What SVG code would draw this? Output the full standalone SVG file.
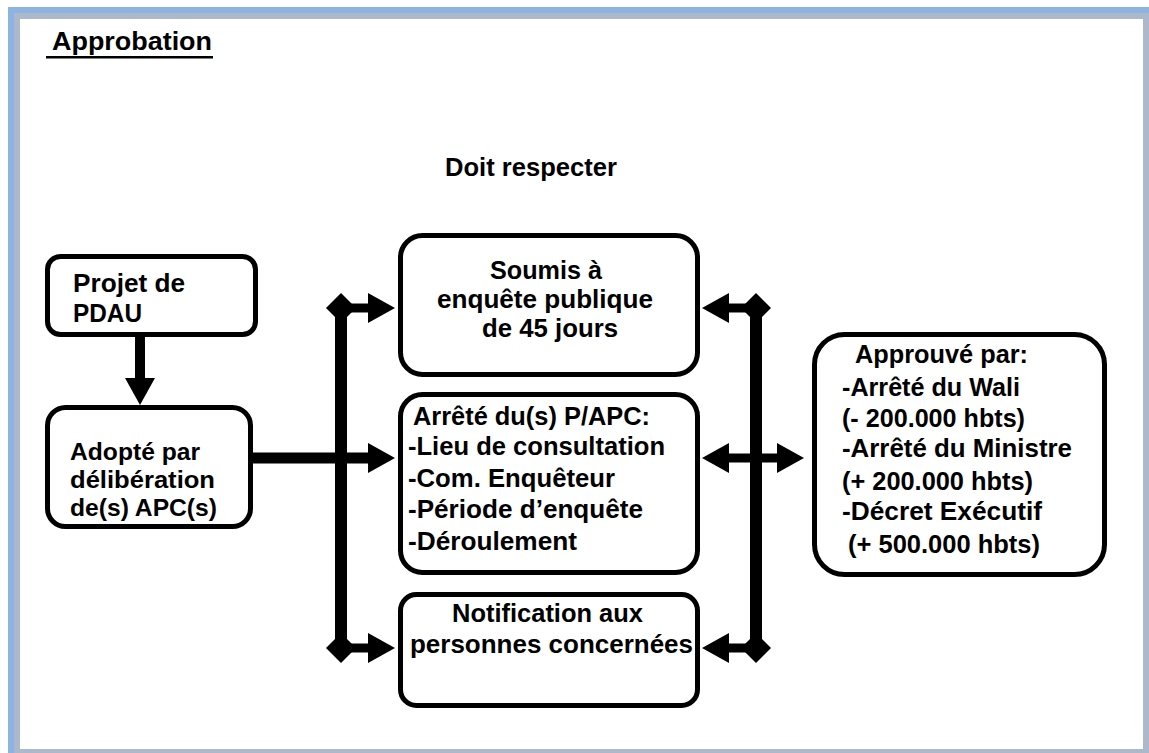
<svg xmlns="http://www.w3.org/2000/svg" xmlns:xlink="http://www.w3.org/1999/xlink" width="1149" height="753" viewBox="0 0 1149 753">
  <style>
    .box { fill: #ffffff; stroke: #000000; stroke-width: 5; }
    .t { font-family: "Liberation Sans", Arial, sans-serif; font-weight: bold; font-size: 26px; fill: #000000; }
    .s { font-size: 24px; }
    .ln { stroke: #000000; fill: none; }
  </style>
  <defs>
    <path id="ah" d="M0,0 L-27,-15 L-27,15 Z" fill="#000"/>
    <path id="dm" d="M0,-15 L15,0 L0,15 L-15,0 Z" fill="#000"/>
  </defs>
  <g id="frame">
    <rect x="8" y="7" width="1141" height="746" fill="#8db3e2"/>
    <rect x="14" y="13" width="1135" height="740" fill="#acb9ca"/>
    <rect x="20" y="19" width="1123" height="730" fill="#ffffff"/>
  </g>
  <g id="title">
    <text class="t" x="52" y="50" textLength="160" lengthAdjust="spacingAndGlyphs" font-size="25">Approbation</text>
    <rect x="46" y="56" width="167" height="2.5" fill="#000"/>
  </g>
  <g id="doit">
    <text class="t" x="445" y="176" textLength="172" lengthAdjust="spacingAndGlyphs">Doit respecter</text>
  </g>
  <g id="connectors">
    <line class="ln" x1="140" y1="337" x2="140" y2="380" stroke-width="10"/>
    <use xlink:href="#ah" transform="translate(140,405) rotate(90)"/>
    <line class="ln" x1="341" y1="308" x2="341" y2="648" stroke-width="12"/>
    <line class="ln" x1="341" y1="308" x2="370" y2="308" stroke-width="9"/>
    <use xlink:href="#ah" transform="translate(395,308)"/>
    <line class="ln" x1="253" y1="458" x2="370" y2="458" stroke-width="11"/>
    <use xlink:href="#ah" transform="translate(395,458)"/>
    <line class="ln" x1="341" y1="648" x2="370" y2="648" stroke-width="9"/>
    <use xlink:href="#ah" transform="translate(395,648)"/>
    <use xlink:href="#dm" transform="translate(341,308)"/>
    <use xlink:href="#dm" transform="translate(341,648)"/>
    <line class="ln" x1="756" y1="308" x2="756" y2="648" stroke-width="12"/>
    <line class="ln" x1="726" y1="308" x2="756" y2="308" stroke-width="9"/>
    <use xlink:href="#ah" transform="translate(702,308) rotate(180)"/>
    <line class="ln" x1="726" y1="458" x2="780" y2="458" stroke-width="9"/>
    <use xlink:href="#ah" transform="translate(702,458) rotate(180)"/>
    <use xlink:href="#ah" transform="translate(804,458)"/>
    <line class="ln" x1="726" y1="648" x2="756" y2="648" stroke-width="9"/>
    <use xlink:href="#ah" transform="translate(702,648) rotate(180)"/>
    <use xlink:href="#dm" transform="translate(756,308)"/>
    <use xlink:href="#dm" transform="translate(756,648)"/>
  </g>
  <g id="projet">
    <rect class="box" x="47.5" y="256.5" width="208" height="78" rx="13"/>
    <text class="t" x="73" y="292" textLength="112" lengthAdjust="spacingAndGlyphs">Projet de</text>
    <text class="t" x="73" y="322" textLength="69" lengthAdjust="spacingAndGlyphs">PDAU</text>
  </g>
  <g id="adopte">
    <rect class="box" x="47.5" y="407.5" width="203" height="119" rx="18"/>
    <text class="t s" x="70" y="460" textLength="130" lengthAdjust="spacingAndGlyphs">Adopté par</text>
    <text class="t s" x="70" y="488" textLength="145" lengthAdjust="spacingAndGlyphs">délibération</text>
    <text class="t s" x="70" y="516" textLength="147" lengthAdjust="spacingAndGlyphs">de(s) APC(s)</text>
  </g>
  <g id="soumis">
    <rect class="box" x="400.5" y="235.5" width="297" height="139" rx="22"/>
    <text class="t" x="490" y="279" textLength="112" lengthAdjust="spacingAndGlyphs">Soumis à</text>
    <text class="t" x="437" y="308" textLength="216" lengthAdjust="spacingAndGlyphs">enquête publique</text>
    <text class="t" x="482" y="337" textLength="136" lengthAdjust="spacingAndGlyphs">de 45 jours</text>
  </g>
  <g id="arrete">
    <rect class="box" x="400.5" y="394.5" width="297" height="178" rx="22"/>
    <text class="t" x="413" y="425" textLength="237" lengthAdjust="spacingAndGlyphs">Arrêté du(s) P/APC:</text>
    <text class="t" x="408" y="455" textLength="257" lengthAdjust="spacingAndGlyphs">-Lieu de consultation</text>
    <text class="t" x="408" y="487" textLength="207" lengthAdjust="spacingAndGlyphs">-Com. Enquêteur</text>
    <text class="t" x="408" y="518" textLength="235" lengthAdjust="spacingAndGlyphs">-Période d’enquête</text>
    <text class="t" x="408" y="550" textLength="169" lengthAdjust="spacingAndGlyphs">-Déroulement</text>
  </g>
  <g id="notification">
    <rect class="box" x="400.5" y="594.5" width="297" height="111" rx="16"/>
    <text class="t" x="452" y="622" textLength="191" lengthAdjust="spacingAndGlyphs">Notification aux</text>
    <text class="t" x="410" y="653" textLength="283" lengthAdjust="spacingAndGlyphs">personnes concernées</text>
  </g>
  <g id="approuve">
    <rect class="box" x="814.5" y="334.5" width="290" height="240" rx="30"/>
    <text class="t" x="855" y="363" textLength="173" lengthAdjust="spacingAndGlyphs">Approuvé par:</text>
    <text class="t" x="842" y="396" textLength="178" lengthAdjust="spacingAndGlyphs">-Arrêté du Wali</text>
    <text class="t" x="842" y="427" textLength="183" lengthAdjust="spacingAndGlyphs">(- 200.000 hbts)</text>
    <text class="t" x="842" y="457" textLength="230" lengthAdjust="spacingAndGlyphs">-Arrêté du Ministre</text>
    <text class="t" x="842" y="490" textLength="191" lengthAdjust="spacingAndGlyphs">(+ 200.000 hbts)</text>
    <text class="t" x="842" y="520" textLength="200" lengthAdjust="spacingAndGlyphs">-Décret Exécutif</text>
    <text class="t" x="848" y="553" textLength="192" lengthAdjust="spacingAndGlyphs">(+ 500.000 hbts)</text>
  </g>
</svg>
